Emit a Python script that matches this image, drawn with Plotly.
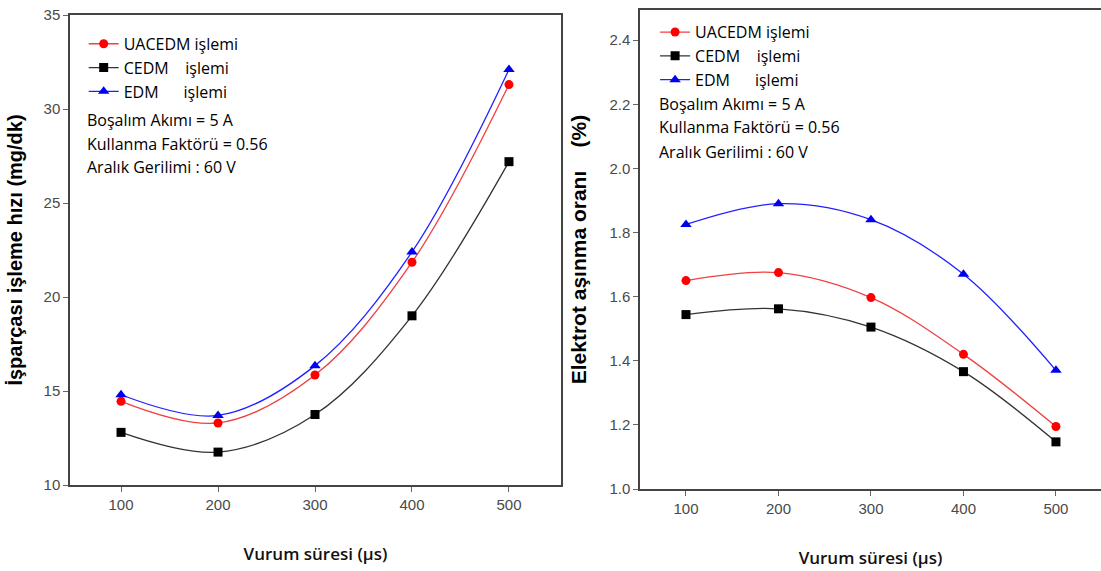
import plotly.graph_objects as go

# Pulse duration (µs)
vurum_suresi = [100, 200, 300, 400, 500]

# Workpiece material removal rate (mg/dk)
mrr_uacedm = [14.45, 13.3, 15.85, 21.85, 31.3]
mrr_cedm = [12.8, 11.75, 13.75, 19.0, 27.2]
mrr_edm = [14.8, 13.7, 16.35, 22.4, 32.1]

# Electrode wear ratio (%)
ewr_uacedm = [1.65, 1.675, 1.597, 1.42, 1.195]
ewr_cedm = [1.544, 1.562, 1.505, 1.366, 1.147]
ewr_edm = [1.825, 1.89, 1.84, 1.67, 1.37]

series_names = ["UACEDM işlemi",
                "CEDM\u00a0\u00a0\u00a0\u00a0işlemi",
                "EDM\u00a0\u00a0\u00a0\u00a0\u00a0\u00a0işlemi"]
kosullar = ["Boşalım Akımı = 5 A",
            "Kullanma Faktörü = 0.56",
            "Aralık Gerilimi : 60 V"]

styles = [
    dict(color="#ff0000", line="#f04040", symbol="circle", size=9),
    dict(color="#000000", line="#333333", symbol="square", size=9),
    dict(color="#0000ee", line="#2020ff", symbol="triangle-up", size=10),
]

fig = go.Figure()

def add_series(xref, yref, legend, values):
    for name, ys, st in zip(series_names, values, styles):
        fig.add_trace(go.Scatter(
            x=vurum_suresi, y=ys, name=name,
            mode="lines+markers",
            line=dict(color=st["line"], width=1.3, shape="spline", smoothing=1.0),
            marker=dict(color=st["color"], symbol=st["symbol"], size=st["size"]),
            xaxis=xref, yaxis=yref, legend=legend,
        ))

add_series("x", "y", "legend", [mrr_uacedm, mrr_cedm, mrr_edm])
add_series("x2", "y2", "legend2", [ewr_uacedm, ewr_cedm, ewr_edm])

tick_font = dict(family="Liberation Sans Narrow, Arial Narrow, Liberation Sans", size=15, color="#4a4a4a")
title_font = dict(family="Liberation Sans, Arial", size=20, color="#000000", weight="bold")
title_font2 = dict(family="Liberation Sans, Arial", size=21, color="#000000", weight="bold")
xtitle_font = dict(family="Open Sans, Lato", size=17, color="#111111", weight=600)
legend_font = dict(family="Open Sans, Lato", size=16, color="#000000")

common_x = dict(
    tickmode="array", tickvals=vurum_suresi, ticks="outside", ticklen=5,
    tickcolor="#666666", tickfont=tick_font, showgrid=False, zeroline=False,
    showline=True, linecolor="#444444", linewidth=1.5, automargin=False,
    title=dict(text="Vurum süresi (µs)", font=xtitle_font, standoff=36),
)
common_y = dict(
    ticks="outside", ticklen=5, tickcolor="#666666", tickfont=tick_font,
    showgrid=False, zeroline=False, showline=True, linecolor="#444444", linewidth=1.5,
    automargin=False,
)

fig.update_layout(
    width=1101, height=571,
    margin=dict(l=0, r=0, t=0, b=0, autoexpand=False),
    paper_bgcolor="white", plot_bgcolor="white",
    xaxis=dict(domain=[0.0636, 0.5095], range=[47.4, 553.6], mirror=True, **common_x),
    yaxis=dict(domain=[0.1506, 0.9737], range=[10, 35], tickvals=[10, 15, 20, 25, 30, 35],
               mirror=True,
               title=dict(text="İşparçası işleme hızı (mg/dk)", font=title_font, standoff=16),
               **common_y),
    xaxis2=dict(domain=[0.5813, 1.0], range=[50.3, 548.7], anchor="y2", mirror=True, **common_x),
    yaxis2=dict(domain=[0.1436, 0.9825], range=[1.0, 2.494], anchor="x2",
                tickvals=[1.0, 1.2, 1.4, 1.6, 1.8, 2.0, 2.2, 2.4], tickformat=".1f",
                title=dict(text="Elektrot aşınma oranı\u00a0\u00a0\u00a0\u00a0(%)", font=title_font2,
                           standoff=17),
                **common_y),
    legend=dict(x=0.076, y=0.953, xanchor="left", yanchor="top", bgcolor="rgba(0,0,0,0)",
                font=legend_font, itemwidth=30, tracegroupgap=0),
    legend2=dict(x=0.595, y=0.9735, xanchor="left", yanchor="top", bgcolor="rgba(0,0,0,0)",
                 font=legend_font, itemwidth=30, tracegroupgap=0),
    showlegend=True,
)

cond_font = dict(family="Open Sans, Lato", size=16, color="#000000")
for i, txt in enumerate(kosullar):
    fig.add_annotation(x=0.077, y=1 - (120 + 23.5 * i) / 571, xref="paper", yref="paper",
                       text=txt, showarrow=False, xanchor="left", yanchor="middle", font=cond_font)
    fig.add_annotation(x=0.597, y=1 - (103.5 + 24 * i) / 571, xref="paper", yref="paper",
                       text=txt, showarrow=False, xanchor="left", yanchor="middle", font=cond_font)

fig.write_html("out.html")
